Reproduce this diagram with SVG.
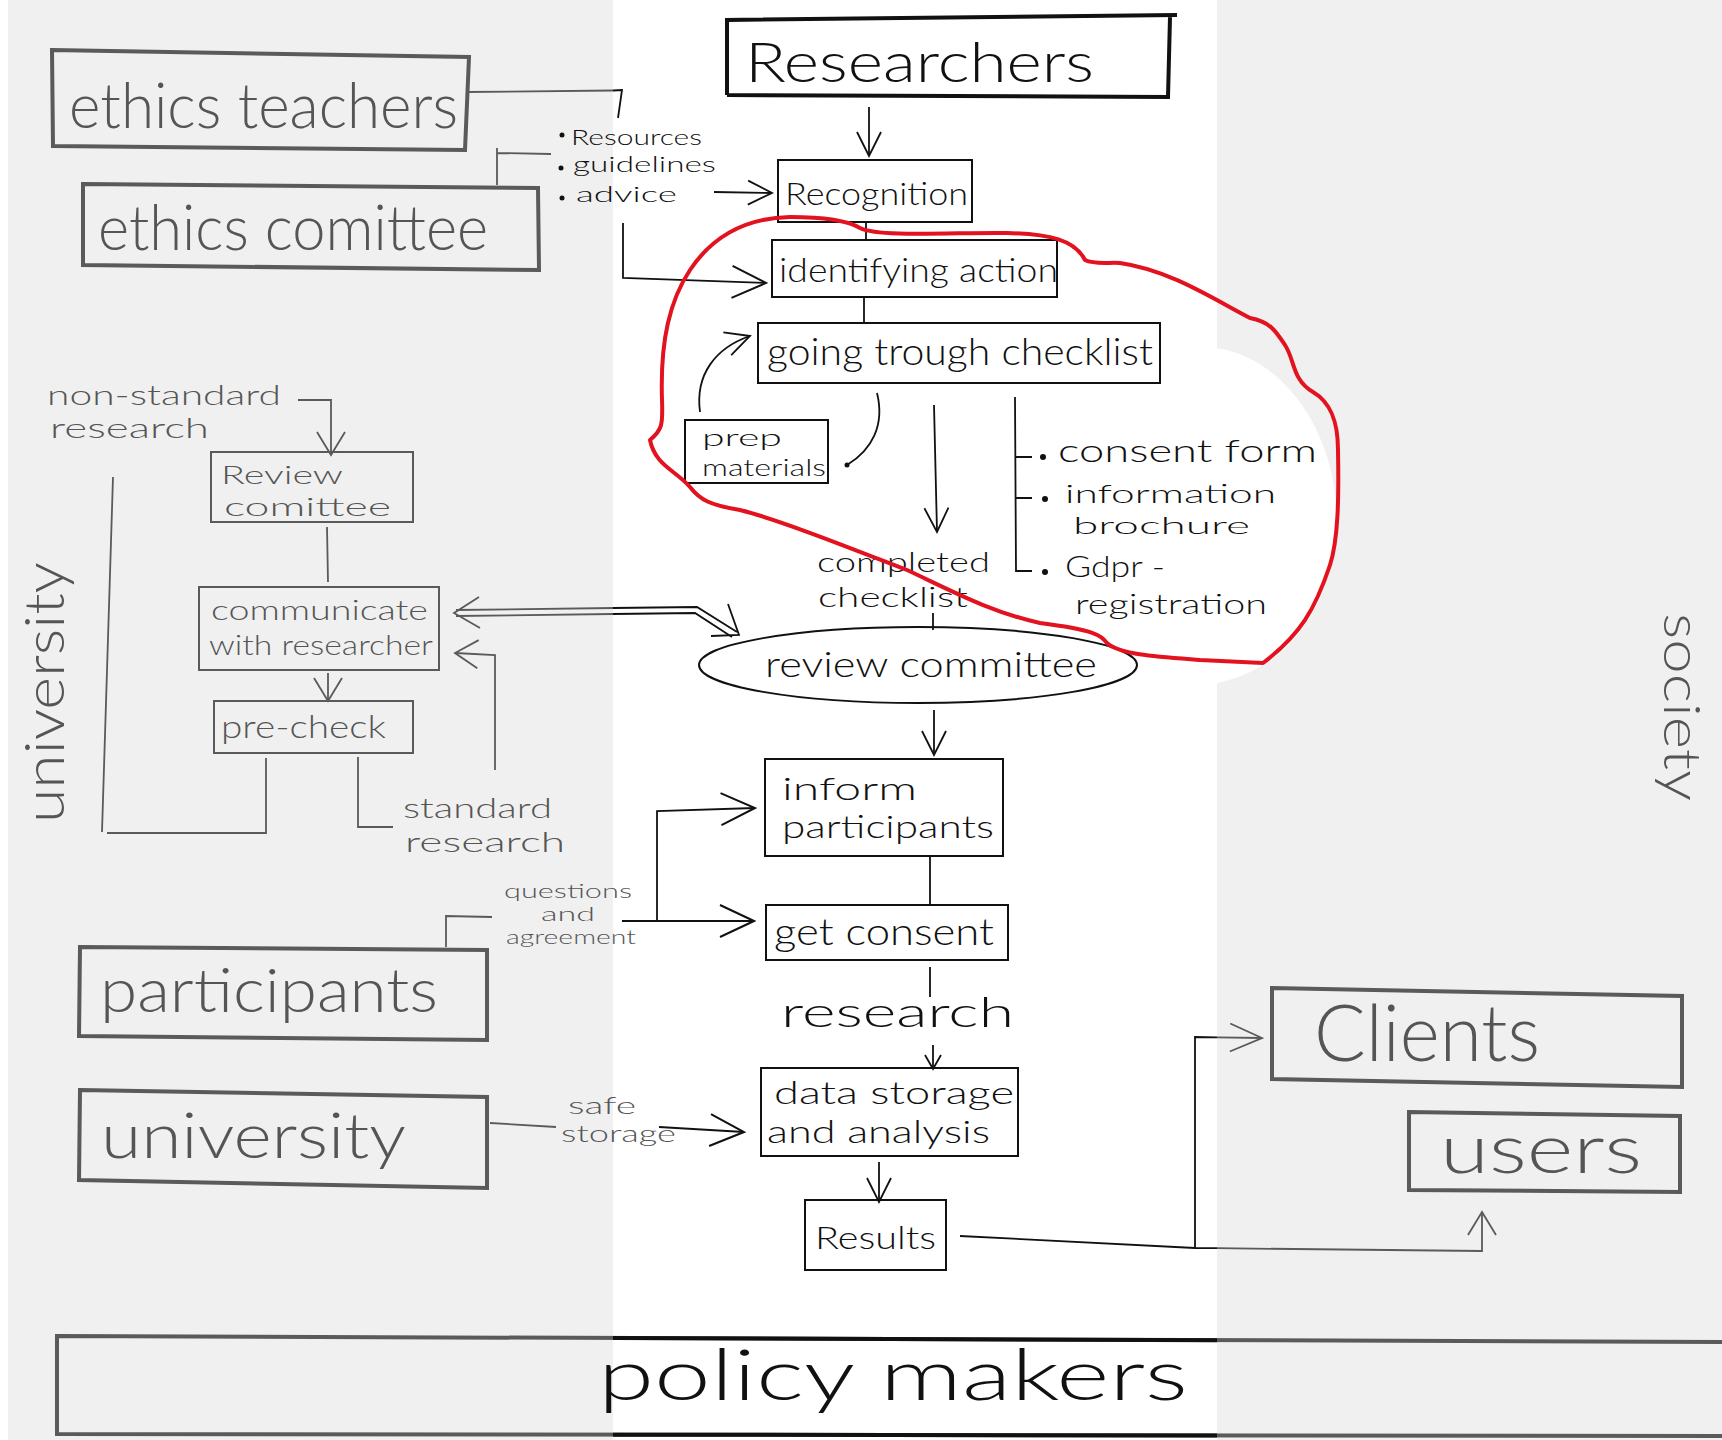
<svg xmlns="http://www.w3.org/2000/svg" width="1722" height="1440" viewBox="0 0 1722 1440">
<style>
.bg{fill:#f0f0f0}
.bk{fill:none;stroke:#111;stroke-width:2}
.bkb{fill:none;stroke:#111;stroke-width:4}
.bg4{fill:none;stroke:#5a5a5a;stroke-width:4}
.bg2{fill:none;stroke:#5a5a5a;stroke-width:2}
.lk{fill:none;stroke:#111;stroke-width:1.8}
.lg{fill:none;stroke:#5a5a5a;stroke-width:1.8}
text{font-family:Lato,"Liberation Sans",Arial,sans-serif;font-weight:300}
.tk{fill:#111}
.tg{fill:#555}
.dk{fill:#111}
</style>
<defs>
<marker id="aS-k" markerUnits="userSpaceOnUse" viewBox="-18 -11 20 22" markerWidth="20" markerHeight="22" refX="0" refY="0" orient="auto"><path d="M-14,-8 L0,0 L-14,8" fill="none" stroke="#111" stroke-width="1.8"/></marker>
<marker id="aM-k" markerUnits="userSpaceOnUse" viewBox="-28 -15 30 30" markerWidth="30" markerHeight="30" refX="0" refY="0" orient="auto"><path d="M-24,-12 L0,0 L-24,12" fill="none" stroke="#111" stroke-width="1.8"/></marker>
<marker id="aL-k" markerUnits="userSpaceOnUse" viewBox="-40 -20 42 40" markerWidth="42" markerHeight="40" refX="0" refY="0" orient="auto"><path d="M-34,-16 L0,0 L-34,16" fill="none" stroke="#111" stroke-width="2"/></marker>
<marker id="aM-g" markerUnits="userSpaceOnUse" viewBox="-28 -17 30 34" markerWidth="30" markerHeight="34" refX="0" refY="0" orient="auto"><path d="M-23,-14 L0,0 L-23,14" fill="none" stroke="#5a5a5a" stroke-width="1.8"/></marker>
<marker id="aL-g" markerUnits="userSpaceOnUse" viewBox="-40 -20 42 40" markerWidth="42" markerHeight="40" refX="0" refY="0" orient="auto"><path d="M-32,-14 L0,0 L-32,14" fill="none" stroke="#5a5a5a" stroke-width="1.8"/></marker>
</defs>

<g id="background">
<rect x="0" y="0" width="1722" height="1440" fill="#fff"/>
<rect class="bg" x="8" y="0" width="605" height="1440"/>
<rect class="bg" x="1217" y="0" width="505" height="1440"/>
<path d="M1217,348 C1290,360 1336,440 1336,515 C1336,600 1292,668 1217,683 Z" fill="#fff"/>
</g>

<g id="lanes">
<text class="tg" transform="translate(64,823) rotate(-90)" font-size="56" textLength="261" lengthAdjust="spacingAndGlyphs">university</text>
<text class="tg" transform="translate(1664,613) rotate(90)" font-size="52" textLength="188" lengthAdjust="spacingAndGlyphs">society</text>
</g>

<g id="ethics-teachers">
<path class="bg4" d="M52,50 L469,57 L465,150 L53,146 Z"/>
<text class="tg" x="69" y="128" font-size="64" textLength="389" lengthAdjust="spacingAndGlyphs">ethics teachers</text>
</g>
<g id="ethics-comittee">
<path class="bg4" d="M83,184 L538,188 L539,270 L83,265 Z"/>
<text class="tg" x="98" y="250" font-size="64" textLength="390" lengthAdjust="spacingAndGlyphs">ethics comittee</text>
</g>
<g id="resources">
<circle class="dk" cx="562" cy="135" r="2.5"/>
<circle class="dk" cx="561" cy="168" r="2.5"/>
<circle class="dk" cx="562" cy="198" r="2.5"/>
<text class="tk" x="571" y="145" font-size="21" textLength="131" lengthAdjust="spacingAndGlyphs">Resources</text>
<text class="tk" x="573" y="172" font-size="21" textLength="143" lengthAdjust="spacingAndGlyphs">guidelines</text>
<text class="tk" x="576" y="202" font-size="22" textLength="101" lengthAdjust="spacingAndGlyphs">advice</text>
</g>

<g id="researchers">
<path class="bkb" d="M727,95 L727,20 L1177,15 M1170,17 L1168,97 L727,95"/>
<text class="tk" x="745" y="82" font-size="56" textLength="349" lengthAdjust="spacingAndGlyphs">Researchers</text>
</g>
<g id="recognition">
<rect class="bk" x="778" y="160" width="194" height="62"/>
<text class="tk" x="785" y="205" font-size="32" textLength="183" lengthAdjust="spacingAndGlyphs">Recognition</text>
</g>
<g id="identifying-action">
<rect class="bk" x="772" y="240" width="285" height="57"/>
<text class="tk" x="779" y="282" font-size="34" textLength="279" lengthAdjust="spacingAndGlyphs">identifying action</text>
</g>
<g id="going-trough-checklist">
<rect class="bk" x="758" y="323" width="402" height="60"/>
<text class="tk" x="767" y="365" font-size="38" textLength="386" lengthAdjust="spacingAndGlyphs">going trough checklist</text>
</g>
<g id="prep-materials">
<rect class="bk" x="685" y="420" width="143" height="63"/>
<text class="tk" x="702" y="446" font-size="24" textLength="80" lengthAdjust="spacingAndGlyphs">prep</text>
<text class="tk" x="702" y="476" font-size="24" textLength="124" lengthAdjust="spacingAndGlyphs">materials</text>
</g>
<g id="checklist-items">
<circle class="dk" cx="1043" cy="457" r="3"/>
<circle class="dk" cx="1045" cy="499" r="3"/>
<circle class="dk" cx="1045" cy="572" r="3"/>
<text class="tk" x="1058" y="462" font-size="32" textLength="259" lengthAdjust="spacingAndGlyphs">consent form</text>
<text class="tk" x="1065" y="503" font-size="25" textLength="211" lengthAdjust="spacingAndGlyphs">information</text>
<text class="tk" x="1073" y="534" font-size="24" textLength="177" lengthAdjust="spacingAndGlyphs">brochure</text>
<text class="tk" x="1065" y="577" font-size="29" textLength="100" lengthAdjust="spacingAndGlyphs">Gdpr -</text>
<text class="tk" x="1075" y="614" font-size="28" textLength="192" lengthAdjust="spacingAndGlyphs">registration</text>
</g>
<g id="completed-checklist">
<text class="tk" x="817" y="572" font-size="28" textLength="173" lengthAdjust="spacingAndGlyphs">completed</text>
<text class="tk" x="818" y="607" font-size="28" textLength="150" lengthAdjust="spacingAndGlyphs">checklist</text>
</g>
<g id="review-committee">
<ellipse class="bk" cx="918" cy="665" rx="219" ry="38"/>
<text class="tk" x="765" y="677" font-size="36" textLength="332" lengthAdjust="spacingAndGlyphs">review committee</text>
</g>
<g id="inform-participants">
<rect class="bk" x="765" y="759" width="238" height="97"/>
<text class="tk" x="782" y="800" font-size="31" textLength="135" lengthAdjust="spacingAndGlyphs">inform</text>
<text class="tk" x="782" y="838" font-size="31" textLength="212" lengthAdjust="spacingAndGlyphs">participants</text>
</g>
<g id="get-consent">
<rect class="bk" x="766" y="905" width="242" height="55"/>
<text class="tk" x="774" y="945" font-size="38" textLength="220" lengthAdjust="spacingAndGlyphs">get consent</text>
</g>
<g id="research">
<text class="tk" x="781" y="1027" font-size="42" textLength="233" lengthAdjust="spacingAndGlyphs">research</text>
</g>
<g id="data-storage">
<rect class="bk" x="761" y="1068" width="257" height="88"/>
<text class="tk" x="774" y="1104" font-size="32" textLength="240" lengthAdjust="spacingAndGlyphs">data storage</text>
<text class="tk" x="767" y="1143" font-size="32" textLength="223" lengthAdjust="spacingAndGlyphs">and analysis</text>
</g>
<g id="results">
<rect class="bk" x="805" y="1200" width="141" height="70"/>
<text class="tk" x="815" y="1249" font-size="32" textLength="121" lengthAdjust="spacingAndGlyphs">Results</text>
</g>

<g id="non-standard-research">
<text class="tg" x="47" y="405" font-size="27" textLength="234" lengthAdjust="spacingAndGlyphs">non-standard</text>
<text class="tg" x="50" y="438" font-size="27" textLength="159" lengthAdjust="spacingAndGlyphs">research</text>
</g>
<g id="review-comittee-left">
<rect class="bg2" x="211" y="452" width="202" height="70"/>
<text class="tg" x="221" y="484" font-size="26" textLength="122" lengthAdjust="spacingAndGlyphs">Review</text>
<text class="tg" x="224" y="516" font-size="26" textLength="167" lengthAdjust="spacingAndGlyphs">comittee</text>
</g>
<g id="communicate">
<rect class="bg2" x="199" y="587" width="240" height="83"/>
<text class="tg" x="211" y="620" font-size="28" textLength="217" lengthAdjust="spacingAndGlyphs">communicate</text>
<text class="tg" x="209" y="655" font-size="28" textLength="224" lengthAdjust="spacingAndGlyphs">with researcher</text>
</g>
<g id="pre-check">
<rect class="bg2" x="214" y="701" width="199" height="52"/>
<text class="tg" x="221" y="738" font-size="31" textLength="165" lengthAdjust="spacingAndGlyphs">pre-check</text>
</g>
<g id="standard-research">
<text class="tg" x="403" y="818" font-size="28" textLength="149" lengthAdjust="spacingAndGlyphs">standard</text>
<text class="tg" x="405" y="852" font-size="28" textLength="160" lengthAdjust="spacingAndGlyphs">research</text>
</g>
<g id="participants">
<path class="bg4" d="M80,947 L487,950 L487,1040 L79,1036 Z"/>
<text class="tg" x="100" y="1012" font-size="62" textLength="338" lengthAdjust="spacingAndGlyphs">participants</text>
</g>
<g id="questions-agreement">
<text class="tg" x="504" y="898" font-size="19" textLength="128" lengthAdjust="spacingAndGlyphs">questions</text>
<text class="tg" x="541" y="921" font-size="19" textLength="54" lengthAdjust="spacingAndGlyphs">and</text>
<text class="tg" x="506" y="944" font-size="19" textLength="130" lengthAdjust="spacingAndGlyphs">agreement</text>
</g>
<g id="university">
<path class="bg4" d="M80,1090 L487,1097 L487,1188 L79,1180 Z"/>
<text class="tg" x="101" y="1158" font-size="64" textLength="305" lengthAdjust="spacingAndGlyphs">university</text>
</g>
<g id="safe-storage">
<text class="tg" x="568" y="1114" font-size="23" textLength="68" lengthAdjust="spacingAndGlyphs">safe</text>
<text class="tg" x="561" y="1142" font-size="23" textLength="115" lengthAdjust="spacingAndGlyphs">storage</text>
</g>
<g id="clients">
<path class="bg4" d="M1272,988 L1682,996 L1682,1087 L1272,1079 Z"/>
<text class="tg" x="1314" y="1061" font-size="78" textLength="226" lengthAdjust="spacingAndGlyphs">Clients</text>
</g>
<g id="users">
<path class="bg4" d="M1409,1112 L1680,1116 L1680,1192 L1409,1190 Z"/>
<text class="tg" x="1440" y="1173" font-size="68" textLength="202" lengthAdjust="spacingAndGlyphs">users</text>
</g>
<g id="policy-makers">
<path class="bg4" d="M57,1336 L1724,1342 L1724,1436 L57,1434 Z"/>
<path class="bkb" d="M613,1338 L1217,1340.2 M613,1434.7 L1217,1435.4"/>
<text class="tk" x="598" y="1400" font-size="70" textLength="590" lengthAdjust="spacingAndGlyphs">policy makers</text>
</g>

<g id="connectors">
<path class="lg" d="M466,92 L613,90.5"/>
<path class="lk" d="M613,90.5 L622,90 L618,118"/>
<path class="lg" d="M497,185 L497,148 M497,153 L551,154"/>
<path class="lk" d="M714,192 L772,193" marker-end="url(#aM-k)"/>
<path class="lk" d="M623,223 L623,278 L766,283" marker-end="url(#aL-k)"/>
<path class="lk" d="M869,107 L869,156" marker-end="url(#aM-k)"/>
<path class="lk" d="M866,222 L866,240"/>
<path class="lk" d="M864,297 L864,323"/>
<path class="lk" d="M700,412 C695,375 715,348 750,336" marker-end="url(#aM-k)"/>
<path class="lk" d="M877,393 C885,425 872,450 847,465"/>
<circle class="dk" cx="847" cy="465" r="2.5"/>
<path class="lk" d="M934,405 L937,532" marker-end="url(#aM-k)"/>
<path class="lk" d="M1015,397 L1016,571 L1032,571 M1015,457 L1032,457 M1015,498 L1032,498"/>
<path class="lk" d="M933,613 L933,630"/>
<path class="lk" d="M934,710 L934,755" marker-end="url(#aM-k)"/>
<path class="lg" d="M456,610 L613,608 M456,616 L613,614"/>
<path class="lk" d="M613,608 L697,607 L737,632 M613,614 L695,613 L732,637"/>
<path class="lg" d="M479,597 L454,613 L480,628"/>
<path class="lk" d="M728,604 L739,635 L711,636"/>
<path class="lg" d="M298,400 L331,400 L331,455" marker-end="url(#aM-g)"/>
<path class="lg" d="M327,527 L328,582"/>
<path class="lg" d="M328,673 L328,701" marker-end="url(#aM-g)"/>
<path class="lg" d="M266,758 L266,833 L107,833 M113,477 L102,832"/>
<path class="lg" d="M358,757 L358,827 L393,827"/>
<path class="lg" d="M495,770 L495,655 L455,653" marker-end="url(#aM-g)"/>
<path class="lg" d="M446,947 L446,916 L492,917"/>
<path class="lk" d="M622,921 L754,921" marker-end="url(#aL-k)"/>
<path class="lk" d="M657,920 L657,811 L755,808" marker-end="url(#aL-k)"/>
<path class="lk" d="M930,856 L930,905"/>
<path class="lk" d="M930,967 L930,997"/>
<path class="lk" d="M933,1045 L933,1069" marker-end="url(#aS-k)"/>
<path class="lg" d="M490,1123 L556,1127"/>
<path class="lk" d="M659,1127 L744,1132" marker-end="url(#aL-k)"/>
<path class="lk" d="M879,1162 L879,1202" marker-end="url(#aM-k)"/>
<path class="lk" d="M960,1236 L1195,1248 L1217,1248.2 M1195,1248 L1195,1037 L1217,1037.3"/>
<path class="lg" d="M1217,1248.2 L1482,1251 L1482,1212" marker-end="url(#aM-g)"/>
<path class="lg" d="M1217,1037.3 L1262,1038" marker-end="url(#aL-g)"/>
</g>

<g id="annotation">
<path d="M650,440 C662,430 663,425 662,400 C660,340 670,300 690,270 C710,240 740,218 790,217 C830,217 850,222 860,228 C880,238 960,232 1007,233 C1050,234 1075,240 1085,260 C1095,265 1110,262 1120,263 C1170,270 1215,300 1250,318 C1270,322 1275,330 1285,345 C1295,360 1292,380 1313,392 C1330,402 1338,420 1338,450 C1339,500 1338,540 1330,565 C1315,610 1300,635 1263,663 L1200,660 C1160,657 1120,655 1107,643 C1100,635 1095,630 1040,623 C990,612 950,590 907,570 C850,548 780,520 740,510 C710,505 700,500 690,487 C675,470 655,465 650,440 Z" fill="none" stroke="#e3121f" stroke-width="4" stroke-linejoin="round"/>
</g>
</svg>
